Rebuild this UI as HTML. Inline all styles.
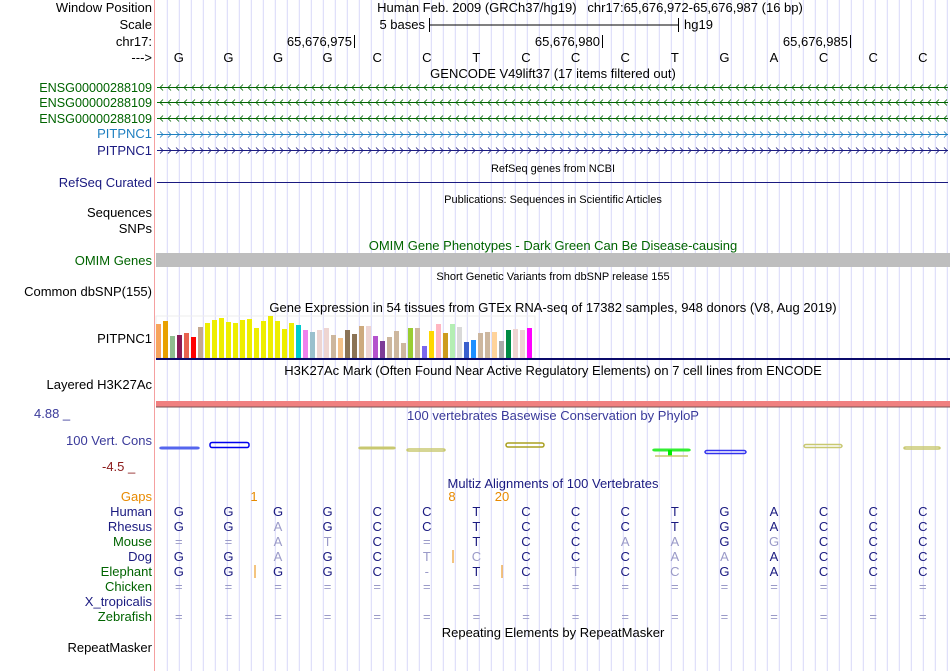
<!DOCTYPE html>
<html><head><meta charset="utf-8"><style>
body{margin:0;background:#fff;}
svg{display:block;font-family:"Liberation Sans",sans-serif;}
text{white-space:pre;}
</style></head><body>
<svg id="c" width="950" height="671" viewBox="0 0 950 671" xmlns="http://www.w3.org/2000/svg">
<g id="grid"></g>
<line x1="154.5" y1="0" x2="154.5" y2="671" stroke="#f5a0a0"/>
<g id="content"></g>
</svg>
<script>
const NS="http://www.w3.org/2000/svg";
const G=document.getElementById('content');
const grid=document.getElementById('grid');
function el(tag,attrs,parent,txt){const e=document.createElementNS(NS,tag);for(const k in attrs)e.setAttribute(k,attrs[k]);if(txt!==undefined)e.textContent=txt;(parent||G).appendChild(e);return e;}
function txt(x,y,s,fill,anchor,size,name,inter){const t=el('text',{x:x,y:y,fill:fill||'#000','text-anchor':anchor||'start','font-size':size||13},G,s);

return t;}

for(let x=167.3;x<950;x+=12){const l=el('line',{x1:x,y1:0,x2:x,y2:671,stroke:'#d8d8f8'},grid);

}

const labels=[["Window Position",12,'#000'],["Scale",29,'#000'],["chr17:",46,'#000'],["--->",62,'#000'],
["ENSG00000288109",92,'#006400'],["ENSG00000288109",107,'#006400'],["ENSG00000288109",123,'#006400'],
["PITPNC1",138,'#1e7fc0'],["PITPNC1",155,'#1a1a80'],["RefSeq Curated",187,'#1a1a80'],["Sequences",217,'#000'],
["SNPs",233,'#000'],["OMIM Genes",265,'#006400'],["Common dbSNP(155)",296,'#000'],["PITPNC1",343,'#000'],
["Layered H3K27Ac",389,'#000'],["100 Vert. Cons",445,'#3a3a9a'],["Gaps",501,'#e88a00'],["Human",516,'#1a1a80'],
["Rhesus",531,'#1a1a80'],["Mouse",546,'#006400'],["Dog",561,'#1a1a80'],["Elephant",576,'#006400'],
["Chicken",591,'#006400'],["X_tropicalis",606,'#1a1a80'],["Zebrafish",621,'#006400'],["RepeatMasker",652,'#000']];
labels.forEach(l=>txt(152,l[1],l[0],l[2],'end',l[0].startsWith('ENSG')?12.6:13,'track-label',true));
txt(34,418,"4.88 _",'#3a3a9a','start',13,'y-max-label');
txt(102,471,"-4.5 _",'#8b1a1a','start',13,'y-min-label');

txt(590,12,"Human Feb. 2009 (GRCh37/hg19)   chr17:65,676,972-65,676,987 (16 bp)",'#000','middle',13,'position-title');
txt(425,29,"5 bases",'#000','end',13,'scale-label');
el('line',{x1:429.5,y1:18,x2:429.5,y2:32,stroke:'#000'});el('line',{x1:678.5,y1:18,x2:678.5,y2:32,stroke:'#000'});el('line',{x1:429,y1:25,x2:679,y2:25,stroke:'#000'});
txt(684,29,"hg19",'#000','start',13,'assembly-label');
[["65,676,975",354],["65,676,980",602],["65,676,985",850]].forEach(p=>{txt(p[1]-2,46,p[0],'#000','end',13,'coordinate-tick');el('line',{x1:p[1]+.5,y1:35,x2:p[1]+.5,y2:48,stroke:'#000'});});

const bases=["G","G","G","G","C","C","T","C","C","C","T","G","A","C","C","C"];
const bx=i=>154+49.6*(i+0.5);
bases.forEach((b,i)=>txt(bx(i),62,b,'#000','middle',13,'reference-base'));

txt(553,78,"GENCODE V49lift37 (17 items filtered out)",'#000','middle',13,'gencode-title');
txt(553,172,"RefSeq genes from NCBI",'#000','middle',11,'refseq-title');
txt(553,203,"Publications: Sequences in Scientific Articles",'#000','middle',11,'publications-title');
txt(553,250,"OMIM Gene Phenotypes - Dark Green Can Be Disease-causing",'#006400','middle',13,'omim-title');
txt(553,280,"Short Genetic Variants from dbSNP release 155",'#000','middle',11,'dbsnp-title');
txt(553,312,"Gene Expression in 54 tissues from GTEx RNA-seq of 17382 samples, 948 donors (V8, Aug 2019)",'#000','middle',13,'gtex-title');
txt(553,375,"H3K27Ac Mark (Often Found Near Active Regulatory Elements) on 7 cell lines from ENCODE",'#000','middle',13,'h3k27ac-title');
txt(553,420,"100 vertebrates Basewise Conservation by PhyloP",'#3a3a9a','middle',13,'phylop-title');
txt(553,488,"Multiz Alignments of 100 Vertebrates",'#1a1a80','middle',13,'multiz-title');
txt(553,637,"Repeating Elements by RepeatMasker",'#000','middle',13,'repeatmasker-title');

function gene(y,color,dir){el('line',{x1:157,y1:y+.5,x2:948,y2:y+.5,stroke:color});
for(let x=160;x<948;x+=8){const d=dir<0?`M${x+3},${y-2.5} L${x},${y+.5} L${x+3},${y+3.5}`:`M${x},${y-2.5} L${x+3},${y+.5} L${x},${y+3.5}`;el('path',{d:d,stroke:color,fill:'none','stroke-width':0.8});}}
gene(87,'#006400',-1);gene(102,'#006400',-1);gene(118,'#006400',-1);gene(134,'#1e7fc0',1);gene(150,'#1a1a80',1);
el('line',{x1:157,y1:182.5,x2:948,y2:182.5,stroke:'#1a1a80'});
el('rect',{x:156,y:253,width:794,height:14,fill:'#bebebe'});

const gtexValues=[34,37,22,23,25,21,31,35,38,40,36,35,38,39,30,37,42,37,29,35,33,28,26,28,30,23,20,28,24,32,32,22,17,21,27,15,30,30,12,27,34,25,34,31,16,18,25,26,26,17,28,29,28,30];
const gtexColors=["#f7a35c","#e8a000","#8fbc8f","#8b1a55","#e8624f","#ff0000","#c4a890","#eeee00","#eeee00","#eeee00","#eeee00","#eeee00","#eeee00","#eeee00","#eeee00","#eeee00","#eeee00","#eeee00","#eeee00","#eeee00","#00cdcd","#ee82ee","#9ac0cd","#eed5d2","#eed5d2","#cdb79e","#f4c28a","#8b7355","#8b7355","#cdaa7d","#eed5d2","#b452cd","#7d3c98","#cdb79e","#cdb79e","#cdb79e","#9acd32","#cdb79e","#7a67ee","#ffd700","#ffb6c1","#cd9b1d","#b4eeb4","#d9d9d9","#3a5fcd","#1e90ff","#cdb79e","#cdb79e","#ffd39b","#aaaaaa","#008b45","#eed5d2","#eed5d2","#ff00ff"];
const gBase=358, gx=i=>156+i*7, gy=v=>gBase-v;
el('rect',{x:156,y:316,width:379,height:42,fill:'none',stroke:'#eee'});
gtexValues.forEach((v,i)=>{const r=el('rect',{x:gx(i),y:gy(v),width:5,height:v,fill:gtexColors[i]});

});
el('rect',{x:156,y:358,width:794,height:2,fill:'#0a0a6a'});

el('rect',{x:156,y:401,width:794,height:6,fill:'#f08080'});
el('line',{x1:156,y1:407,x2:950,y2:407,stroke:'#7a5050'});

// phylo glyphs: [x0,x1,y,color,h]
const cons=[[160,199,448,'#5566ee',1.5],[210,249,445,'#0000ee',5],[359,395,448,'#c8c870',1.5],[407,445,450,'#c8c870',2],[506,544,445,'#aaa020',4],[653,690,450,'#33ee33',1.5],[705,746,452,'#3333ee',3],[804,842,446,'#c8c870',3],[904,940,448,'#c8c870',2]];
cons.forEach(c=>{const r=el('rect',{x:c[0],y:c[2]-c[4]/2,width:c[1]-c[0],height:c[4],fill:'none',stroke:c[3],'stroke-width':1.5,rx:2});

});
el('rect',{x:668,y:450,width:4,height:6,fill:'#00ee00'});
el('line',{x1:655,y1:456,x2:688,y2:456,stroke:'#c8c870','stroke-width':1.5});

const D='#1a1a80',L='#9a9ac8';
const rows=[
[516,"GGGGCCTCCCTGACCC","dddddddddddddddd"],
[531,"GGAGCCTCCCTGACCC","ddlddddddddddddd"],
[546,"==ATC=TCCAAGGCCC","lllldldddlldlddd"],
[561,"GGAGCTCCCCAAACCC","ddlddlldddllddddd"],
[576,"GGGGC-TCTCCGACCC","dddddlddldlddddd"],
[591,"================","llllllllllllllll"],
[621,"================","llllllllllllllll"]];
rows.forEach(r=>{for(let i=0;i<16;i++){txt(bx(i),r[0],r[1][i],r[2][i]==='d'?D:L,'middle',13,'alignment-base');}});
const gaps=[["1",254],["8",452],["20",502]];
gaps.forEach(g=>txt(g[1],501,g[0],'#e88a00','middle',13,'gap-count'));
[[255,565,578],[453,550,563],[502,565,578]].forEach(g=>el('line',{x1:g[0],y1:g[1],x2:g[0],y2:g[2],stroke:'#e88a00'}));
</script>
</body></html>
